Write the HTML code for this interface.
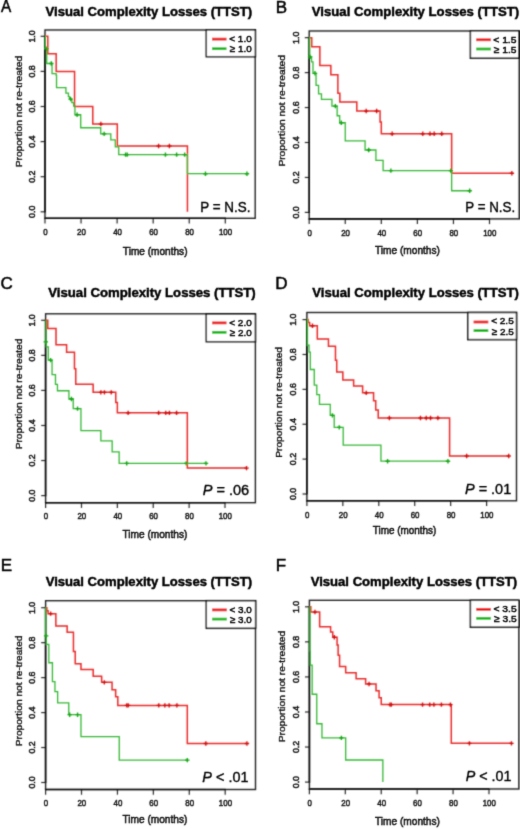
<!DOCTYPE html>
<html><head><meta charset="utf-8"><style>
html,body{margin:0;padding:0;background:#fff;}
body{width:520px;height:829px;overflow:hidden;}
svg{display:block;font-family:"Liberation Sans",sans-serif;}
text{white-space:pre;stroke:#1a1a1a;stroke-width:0.5px;}
.tt{stroke:#000;stroke-width:0.45px;}
.lt{stroke:#000;stroke-width:0.5px;}
.xl{stroke:#000;stroke-width:0.45px;}
.yl{stroke:#000;stroke-width:0.3px;}
.pt{stroke:#000;stroke-width:0.35px;}
.lg{stroke:#000;stroke-width:0.45px;}
</style></head><body>
<svg width="520" height="829" viewBox="0 0 520 829">
<defs><filter id="bl" x="0" y="0" width="520" height="829" filterUnits="userSpaceOnUse"><feConvolveMatrix order="3" kernelMatrix="1 4 1 4 16 4 1 4 1" divisor="36" edgeMode="duplicate"/></filter><filter id="bt" x="0" y="0" width="520" height="829" filterUnits="userSpaceOnUse"><feConvolveMatrix order="3" kernelMatrix="1 6 1 6 36 6 1 6 1" divisor="64" edgeMode="duplicate"/></filter></defs>
<rect width="520" height="829" fill="#fff"/>
<g filter="url(#bl)">
<line x1="40.6" y1="211.8" x2="45" y2="211.8" stroke="#2a2a2a" stroke-width="1.2"/>
<line x1="40.6" y1="176.7" x2="45" y2="176.7" stroke="#2a2a2a" stroke-width="1.2"/>
<line x1="40.6" y1="141.6" x2="45" y2="141.6" stroke="#2a2a2a" stroke-width="1.2"/>
<line x1="40.6" y1="106.5" x2="45" y2="106.5" stroke="#2a2a2a" stroke-width="1.2"/>
<line x1="40.6" y1="71.4" x2="45" y2="71.4" stroke="#2a2a2a" stroke-width="1.2"/>
<line x1="40.6" y1="36.3" x2="45" y2="36.3" stroke="#2a2a2a" stroke-width="1.2"/>
<line x1="45" y1="218.3" x2="45" y2="223.5" stroke="#2a2a2a" stroke-width="1.2"/>
<line x1="81.06" y1="218.3" x2="81.06" y2="223.5" stroke="#2a2a2a" stroke-width="1.2"/>
<line x1="117.12" y1="218.3" x2="117.12" y2="223.5" stroke="#2a2a2a" stroke-width="1.2"/>
<line x1="153.18" y1="218.3" x2="153.18" y2="223.5" stroke="#2a2a2a" stroke-width="1.2"/>
<line x1="189.24" y1="218.3" x2="189.24" y2="223.5" stroke="#2a2a2a" stroke-width="1.2"/>
<line x1="225.3" y1="218.3" x2="225.3" y2="223.5" stroke="#2a2a2a" stroke-width="1.2"/>
<rect x="45" y="30" width="210.2" height="188.3" fill="none" stroke="#222" stroke-width="1.4"/>
<path d="M45,35.7 V212.4 M44.4,218.3 H225.9" fill="none" stroke="#111" stroke-width="1.6"/>
<path d="M45,36.3 H47.79 V53.85 H56.18 V71.4 H74.57 V106.5 H92.78 V124.05 H117.3 V145.99 H187.44 V211.8 H187.44" fill="none" stroke="#ea2a2a" stroke-width="1.5"/>
<path d="M45,36.3 H45.36 V48.59 H46.71 V63.5 H52.03 V73.68 H56.18 V75.44 H56.54 V87.72 H65.91 V93.16 H68.44 V96.67 H69.7 V99.13 H71.86 V102.64 H73.67 V106.15 H74.93 V114.75 H80.7 V127.74 H100.71 V133.88 H110.81 V139.85 H115.32 V146.87 H118.74 V154.59 H187.44 V173.72 H246.94" fill="none" stroke="#36b836" stroke-width="1.3"/>
<path d="M98.69,124.05 h4.4 M100.89,121.85 v4.4" stroke="#d01010" stroke-width="1.35" fill="none"/>
<path d="M156.39,145.99 h4.4 M158.59,143.79 v4.4" stroke="#d01010" stroke-width="1.35" fill="none"/>
<path d="M167.21,145.99 h4.4 M169.41,143.79 v4.4" stroke="#d01010" stroke-width="1.35" fill="none"/>
<path d="M44.24,48.59 h4.4 M46.44,46.39 v4.4" stroke="#12a612" stroke-width="1.35" fill="none"/>
<path d="M49.11,63.5 h4.4 M51.31,61.3 v4.4" stroke="#12a612" stroke-width="1.35" fill="none"/>
<path d="M68.4,99.13 h4.4 M70.6,96.93 v4.4" stroke="#12a612" stroke-width="1.35" fill="none"/>
<path d="M74.89,114.75 h4.4 M77.09,112.55 v4.4" stroke="#12a612" stroke-width="1.35" fill="none"/>
<path d="M101.94,133.88 h4.4 M104.14,131.68 v4.4" stroke="#12a612" stroke-width="1.35" fill="none"/>
<path d="M123.39,154.59 h4.4 M125.59,152.39 v4.4" stroke="#12a612" stroke-width="1.35" fill="none"/>
<path d="M125.02,154.59 h4.4 M127.22,152.39 v4.4" stroke="#12a612" stroke-width="1.35" fill="none"/>
<path d="M163.24,154.59 h4.4 M165.44,152.39 v4.4" stroke="#12a612" stroke-width="1.35" fill="none"/>
<path d="M174.42,154.59 h4.4 M176.62,152.39 v4.4" stroke="#12a612" stroke-width="1.35" fill="none"/>
<path d="M182.53,154.59 h4.4 M184.73,152.39 v4.4" stroke="#12a612" stroke-width="1.35" fill="none"/>
<path d="M203.27,173.72 h4.4 M205.47,171.52 v4.4" stroke="#12a612" stroke-width="1.35" fill="none"/>
<path d="M244.74,173.72 h4.4 M246.94,171.52 v4.4" stroke="#12a612" stroke-width="1.35" fill="none"/>
<rect x="206.3" y="29.8" width="49.1" height="26.9" fill="#fff" stroke="#111" stroke-width="1.5"/>
<line x1="212" y1="39.1" x2="226.5" y2="39.1" stroke="#ee0000" stroke-width="2.7"/>
<line x1="212" y1="48.7" x2="226.5" y2="48.7" stroke="#00b800" stroke-width="2.7"/>
<line x1="304.8" y1="212.4" x2="309.2" y2="212.4" stroke="#2a2a2a" stroke-width="1.2"/>
<line x1="304.8" y1="177.45" x2="309.2" y2="177.45" stroke="#2a2a2a" stroke-width="1.2"/>
<line x1="304.8" y1="142.5" x2="309.2" y2="142.5" stroke="#2a2a2a" stroke-width="1.2"/>
<line x1="304.8" y1="107.55" x2="309.2" y2="107.55" stroke="#2a2a2a" stroke-width="1.2"/>
<line x1="304.8" y1="72.6" x2="309.2" y2="72.6" stroke="#2a2a2a" stroke-width="1.2"/>
<line x1="304.8" y1="37.65" x2="309.2" y2="37.65" stroke="#2a2a2a" stroke-width="1.2"/>
<line x1="309.2" y1="218.9" x2="309.2" y2="224.1" stroke="#2a2a2a" stroke-width="1.2"/>
<line x1="345.26" y1="218.9" x2="345.26" y2="224.1" stroke="#2a2a2a" stroke-width="1.2"/>
<line x1="381.32" y1="218.9" x2="381.32" y2="224.1" stroke="#2a2a2a" stroke-width="1.2"/>
<line x1="417.38" y1="218.9" x2="417.38" y2="224.1" stroke="#2a2a2a" stroke-width="1.2"/>
<line x1="453.44" y1="218.9" x2="453.44" y2="224.1" stroke="#2a2a2a" stroke-width="1.2"/>
<line x1="489.5" y1="218.9" x2="489.5" y2="224.1" stroke="#2a2a2a" stroke-width="1.2"/>
<rect x="309.2" y="31" width="210" height="187.9" fill="none" stroke="#222" stroke-width="1.4"/>
<path d="M309.2,37.05 V213 M308.6,218.9 H490.1" fill="none" stroke="#111" stroke-width="1.6"/>
<path d="M309.2,37.65 H311.72 V46.74 H319.84 V65.44 H330.84 V74.7 H337.87 V93.22 H339.85 V101.96 H356.8 V111.05 H380.06 V121.88 H381.32 V133.76 H451.64 V173.26 H511.86" fill="none" stroke="#ea2a2a" stroke-width="1.5"/>
<path d="M309.2,37.65 H309.74 V56.87 H311.54 V61.94 H312.99 V73.3 H316.05 V85.36 H318.58 V93.92 H321.46 V99.34 H331.92 V106.15 H337.15 V115.76 H339.67 V122.75 H345.26 V140.93 H365.09 V150.01 H375.91 V160.32 H383.12 V170.63 H451.64 V190.73 H469.67" fill="none" stroke="#36b836" stroke-width="1.3"/>
<path d="M363.97,111.05 h4.4 M366.17,108.85 v4.4" stroke="#d01010" stroke-width="1.35" fill="none"/>
<path d="M374.43,111.05 h4.4 M376.63,108.85 v4.4" stroke="#d01010" stroke-width="1.35" fill="none"/>
<path d="M389.94,133.76 h4.4 M392.14,131.56 v4.4" stroke="#d01010" stroke-width="1.35" fill="none"/>
<path d="M420.59,133.76 h4.4 M422.79,131.56 v4.4" stroke="#d01010" stroke-width="1.35" fill="none"/>
<path d="M427.8,133.76 h4.4 M430,131.56 v4.4" stroke="#d01010" stroke-width="1.35" fill="none"/>
<path d="M431.95,133.76 h4.4 M434.15,131.56 v4.4" stroke="#d01010" stroke-width="1.35" fill="none"/>
<path d="M439.52,133.76 h4.4 M441.72,131.56 v4.4" stroke="#d01010" stroke-width="1.35" fill="none"/>
<path d="M509.66,173.26 h4.4 M511.86,171.06 v4.4" stroke="#d01010" stroke-width="1.35" fill="none"/>
<path d="M307.9,56.87 h4.4 M310.1,54.67 v4.4" stroke="#12a612" stroke-width="1.35" fill="none"/>
<path d="M312.77,73.3 h4.4 M314.97,71.1 v4.4" stroke="#12a612" stroke-width="1.35" fill="none"/>
<path d="M333.14,106.15 h4.4 M335.34,103.95 v4.4" stroke="#12a612" stroke-width="1.35" fill="none"/>
<path d="M339.09,122.75 h4.4 M341.29,120.55 v4.4" stroke="#12a612" stroke-width="1.35" fill="none"/>
<path d="M366.5,150.01 h4.4 M368.7,147.81 v4.4" stroke="#12a612" stroke-width="1.35" fill="none"/>
<path d="M388.68,170.63 h4.4 M390.88,168.43 v4.4" stroke="#12a612" stroke-width="1.35" fill="none"/>
<path d="M448.54,170.63 h4.4 M450.74,168.43 v4.4" stroke="#12a612" stroke-width="1.35" fill="none"/>
<path d="M467.47,190.73 h4.4 M469.67,188.53 v4.4" stroke="#12a612" stroke-width="1.35" fill="none"/>
<rect x="470.4" y="30.8" width="48.4" height="27.4" fill="#fff" stroke="#111" stroke-width="1.5"/>
<line x1="476.2" y1="39.8" x2="490.9" y2="39.8" stroke="#ee0000" stroke-width="2.7"/>
<line x1="476.2" y1="49" x2="490.9" y2="49" stroke="#00b800" stroke-width="2.7"/>
<line x1="41.2" y1="495.6" x2="45.6" y2="495.6" stroke="#2a2a2a" stroke-width="1.2"/>
<line x1="41.2" y1="460.54" x2="45.6" y2="460.54" stroke="#2a2a2a" stroke-width="1.2"/>
<line x1="41.2" y1="425.48" x2="45.6" y2="425.48" stroke="#2a2a2a" stroke-width="1.2"/>
<line x1="41.2" y1="390.42" x2="45.6" y2="390.42" stroke="#2a2a2a" stroke-width="1.2"/>
<line x1="41.2" y1="355.36" x2="45.6" y2="355.36" stroke="#2a2a2a" stroke-width="1.2"/>
<line x1="41.2" y1="320.3" x2="45.6" y2="320.3" stroke="#2a2a2a" stroke-width="1.2"/>
<line x1="45.6" y1="502.7" x2="45.6" y2="507.9" stroke="#2a2a2a" stroke-width="1.2"/>
<line x1="81.48" y1="502.7" x2="81.48" y2="507.9" stroke="#2a2a2a" stroke-width="1.2"/>
<line x1="117.36" y1="502.7" x2="117.36" y2="507.9" stroke="#2a2a2a" stroke-width="1.2"/>
<line x1="153.24" y1="502.7" x2="153.24" y2="507.9" stroke="#2a2a2a" stroke-width="1.2"/>
<line x1="189.12" y1="502.7" x2="189.12" y2="507.9" stroke="#2a2a2a" stroke-width="1.2"/>
<line x1="225" y1="502.7" x2="225" y2="507.9" stroke="#2a2a2a" stroke-width="1.2"/>
<rect x="45.6" y="313.8" width="209.8" height="188.9" fill="none" stroke="#222" stroke-width="1.4"/>
<path d="M45.6,319.7 V496.2 M45,502.7 H225.6" fill="none" stroke="#111" stroke-width="1.6"/>
<path d="M45.6,320.3 H47.75 V328.54 H56.01 V344.84 H66.59 V352.2 H74.48 V368.68 H75.74 V384.28 H93.14 V392.35 H115.75 V402.52 H117.36 V412.86 H187.33 V468.08 H246.53" fill="none" stroke="#ea2a2a" stroke-width="1.5"/>
<path d="M45.6,320.3 H45.96 V341.86 H46.32 V346.95 H48.29 V360.09 H52.06 V374.64 H55.47 V384.28 H57.44 V390.77 H68.92 V399.01 H73.23 V408.65 H80.94 V430.56 H100.86 V440.91 H112.16 V451.78 H119.15 V463.34 H205.98" fill="none" stroke="#36b836" stroke-width="1.3"/>
<path d="M98.66,392.35 h4.4 M100.86,390.15 v4.4" stroke="#d01010" stroke-width="1.35" fill="none"/>
<path d="M102.24,392.35 h4.4 M104.44,390.15 v4.4" stroke="#d01010" stroke-width="1.35" fill="none"/>
<path d="M109.06,392.35 h4.4 M111.26,390.15 v4.4" stroke="#d01010" stroke-width="1.35" fill="none"/>
<path d="M125.92,412.86 h4.4 M128.12,410.66 v4.4" stroke="#d01010" stroke-width="1.35" fill="none"/>
<path d="M156.42,412.86 h4.4 M158.62,410.66 v4.4" stroke="#d01010" stroke-width="1.35" fill="none"/>
<path d="M163.6,412.86 h4.4 M165.8,410.66 v4.4" stroke="#d01010" stroke-width="1.35" fill="none"/>
<path d="M167.19,412.86 h4.4 M169.39,410.66 v4.4" stroke="#d01010" stroke-width="1.35" fill="none"/>
<path d="M174.36,412.86 h4.4 M176.56,410.66 v4.4" stroke="#d01010" stroke-width="1.35" fill="none"/>
<path d="M244.33,468.08 h4.4 M246.53,465.88 v4.4" stroke="#d01010" stroke-width="1.35" fill="none"/>
<path d="M43.58,341.86 h4.4 M45.78,339.66 v4.4" stroke="#12a612" stroke-width="1.35" fill="none"/>
<path d="M48.42,360.09 h4.4 M50.62,357.89 v4.4" stroke="#12a612" stroke-width="1.35" fill="none"/>
<path d="M69.23,399.01 h4.4 M71.43,396.81 v4.4" stroke="#12a612" stroke-width="1.35" fill="none"/>
<path d="M75.33,408.65 h4.4 M77.53,406.45 v4.4" stroke="#12a612" stroke-width="1.35" fill="none"/>
<path d="M124.49,463.34 h4.4 M126.69,461.14 v4.4" stroke="#12a612" stroke-width="1.35" fill="none"/>
<path d="M184.05,463.34 h4.4 M186.25,461.14 v4.4" stroke="#12a612" stroke-width="1.35" fill="none"/>
<path d="M203.78,463.34 h4.4 M205.98,461.14 v4.4" stroke="#12a612" stroke-width="1.35" fill="none"/>
<rect x="206.3" y="314" width="49.1" height="27.7" fill="#fff" stroke="#111" stroke-width="1.5"/>
<line x1="212.1" y1="322.9" x2="226.5" y2="322.9" stroke="#ee0000" stroke-width="2.7"/>
<line x1="212.1" y1="332.3" x2="226.5" y2="332.3" stroke="#00b800" stroke-width="2.7"/>
<line x1="302.5" y1="494" x2="306.9" y2="494" stroke="#2a2a2a" stroke-width="1.2"/>
<line x1="302.5" y1="459.12" x2="306.9" y2="459.12" stroke="#2a2a2a" stroke-width="1.2"/>
<line x1="302.5" y1="424.24" x2="306.9" y2="424.24" stroke="#2a2a2a" stroke-width="1.2"/>
<line x1="302.5" y1="389.36" x2="306.9" y2="389.36" stroke="#2a2a2a" stroke-width="1.2"/>
<line x1="302.5" y1="354.48" x2="306.9" y2="354.48" stroke="#2a2a2a" stroke-width="1.2"/>
<line x1="302.5" y1="319.6" x2="306.9" y2="319.6" stroke="#2a2a2a" stroke-width="1.2"/>
<line x1="306.9" y1="500.8" x2="306.9" y2="506" stroke="#2a2a2a" stroke-width="1.2"/>
<line x1="342.84" y1="500.8" x2="342.84" y2="506" stroke="#2a2a2a" stroke-width="1.2"/>
<line x1="378.78" y1="500.8" x2="378.78" y2="506" stroke="#2a2a2a" stroke-width="1.2"/>
<line x1="414.72" y1="500.8" x2="414.72" y2="506" stroke="#2a2a2a" stroke-width="1.2"/>
<line x1="450.66" y1="500.8" x2="450.66" y2="506" stroke="#2a2a2a" stroke-width="1.2"/>
<line x1="486.6" y1="500.8" x2="486.6" y2="506" stroke="#2a2a2a" stroke-width="1.2"/>
<rect x="306.9" y="312.5" width="209.6" height="188.3" fill="none" stroke="#222" stroke-width="1.4"/>
<path d="M306.9,319 V494.6 M306.3,500.8 H487.2" fill="none" stroke="#111" stroke-width="1.6"/>
<path d="M306.9,319.6 H308.16 V322.56 H309.6 V325.7 H317.32 V338.96 H328.46 V346.28 H335.47 V360.24 H336.73 V372.09 H342.84 V379.94 H353.62 V386.05 H362.61 V392.85 H373.57 V400.7 H375.73 V410.11 H378.24 V417.96 H449.58 V455.98 H508.7" fill="none" stroke="#ea2a2a" stroke-width="1.5"/>
<path d="M306.9,319.6 H307.44 V345.24 H309.06 V352.21 H310.31 V369.48 H314.27 V385.17 H316.78 V394.59 H319.48 V404.36 H330.26 V415.35 H334.21 V427.38 H343.2 V445.17 H380.94 V461.21 H447.96" fill="none" stroke="#36b836" stroke-width="1.3"/>
<path d="M310.27,325.7 h4.4 M312.47,323.5 v4.4" stroke="#d01010" stroke-width="1.35" fill="none"/>
<path d="M364,392.85 h4.4 M366.2,390.65 v4.4" stroke="#d01010" stroke-width="1.35" fill="none"/>
<path d="M387.18,417.96 h4.4 M389.38,415.76 v4.4" stroke="#d01010" stroke-width="1.35" fill="none"/>
<path d="M418.27,417.96 h4.4 M420.47,415.76 v4.4" stroke="#d01010" stroke-width="1.35" fill="none"/>
<path d="M424.02,417.96 h4.4 M426.22,415.76 v4.4" stroke="#d01010" stroke-width="1.35" fill="none"/>
<path d="M428.33,417.96 h4.4 M430.53,415.76 v4.4" stroke="#d01010" stroke-width="1.35" fill="none"/>
<path d="M435.7,417.96 h4.4 M437.9,415.76 v4.4" stroke="#d01010" stroke-width="1.35" fill="none"/>
<path d="M464.45,455.98 h4.4 M466.65,453.78 v4.4" stroke="#d01010" stroke-width="1.35" fill="none"/>
<path d="M506.5,455.98 h4.4 M508.7,453.78 v4.4" stroke="#d01010" stroke-width="1.35" fill="none"/>
<path d="M330.22,415.35 h4.4 M332.42,413.15 v4.4" stroke="#12a612" stroke-width="1.35" fill="none"/>
<path d="M337.05,427.38 h4.4 M339.25,425.18 v4.4" stroke="#12a612" stroke-width="1.35" fill="none"/>
<path d="M385.39,461.21 h4.4 M387.59,459.01 v4.4" stroke="#12a612" stroke-width="1.35" fill="none"/>
<path d="M445.76,461.21 h4.4 M447.96,459.01 v4.4" stroke="#12a612" stroke-width="1.35" fill="none"/>
<rect x="467.8" y="312.5" width="48.7" height="27.1" fill="#fff" stroke="#111" stroke-width="1.5"/>
<line x1="473.6" y1="322" x2="488.3" y2="322" stroke="#ee0000" stroke-width="2.7"/>
<line x1="473.6" y1="330.6" x2="488.3" y2="330.6" stroke="#00b800" stroke-width="2.7"/>
<line x1="41.2" y1="782.5" x2="45.6" y2="782.5" stroke="#2a2a2a" stroke-width="1.2"/>
<line x1="41.2" y1="747.54" x2="45.6" y2="747.54" stroke="#2a2a2a" stroke-width="1.2"/>
<line x1="41.2" y1="712.58" x2="45.6" y2="712.58" stroke="#2a2a2a" stroke-width="1.2"/>
<line x1="41.2" y1="677.62" x2="45.6" y2="677.62" stroke="#2a2a2a" stroke-width="1.2"/>
<line x1="41.2" y1="642.66" x2="45.6" y2="642.66" stroke="#2a2a2a" stroke-width="1.2"/>
<line x1="41.2" y1="607.7" x2="45.6" y2="607.7" stroke="#2a2a2a" stroke-width="1.2"/>
<line x1="45.6" y1="789.5" x2="45.6" y2="794.7" stroke="#2a2a2a" stroke-width="1.2"/>
<line x1="81.52" y1="789.5" x2="81.52" y2="794.7" stroke="#2a2a2a" stroke-width="1.2"/>
<line x1="117.44" y1="789.5" x2="117.44" y2="794.7" stroke="#2a2a2a" stroke-width="1.2"/>
<line x1="153.36" y1="789.5" x2="153.36" y2="794.7" stroke="#2a2a2a" stroke-width="1.2"/>
<line x1="189.28" y1="789.5" x2="189.28" y2="794.7" stroke="#2a2a2a" stroke-width="1.2"/>
<line x1="225.2" y1="789.5" x2="225.2" y2="794.7" stroke="#2a2a2a" stroke-width="1.2"/>
<rect x="45.6" y="600.7" width="209.9" height="188.8" fill="none" stroke="#222" stroke-width="1.4"/>
<path d="M45.6,607.1 V783.1 M45,789.5 H225.8" fill="none" stroke="#111" stroke-width="1.6"/>
<path d="M45.6,607.7 H46.86 V610.85 H48.11 V613.64 H55.84 V626.05 H67.15 V632.17 H73.44 V651.4 H75.23 V663.64 H80.98 V669.58 H93.19 V676.22 H101.64 V682.34 H112.05 V689.86 H115.64 V696.85 H117.8 V705.41 H187.3 V743.52 H246.93" fill="none" stroke="#ea2a2a" stroke-width="1.5"/>
<path d="M45.6,607.7 H45.78 V635.84 H46.32 V644.41 H48.83 V662.76 H52.42 V681.64 H54.94 V691.6 H57.63 V702.97 H68.77 V714.68 H80.98 V736.53 H119.24 V760.13 H187.3" fill="none" stroke="#36b836" stroke-width="1.3"/>
<path d="M48.43,613.64 h4.4 M50.63,611.44 v4.4" stroke="#d01010" stroke-width="1.35" fill="none"/>
<path d="M102.13,682.34 h4.4 M104.33,680.14 v4.4" stroke="#d01010" stroke-width="1.35" fill="none"/>
<path d="M124.58,705.41 h4.4 M126.78,703.21 v4.4" stroke="#d01010" stroke-width="1.35" fill="none"/>
<path d="M126.02,705.41 h4.4 M128.22,703.21 v4.4" stroke="#d01010" stroke-width="1.35" fill="none"/>
<path d="M156.55,705.41 h4.4 M158.75,703.21 v4.4" stroke="#d01010" stroke-width="1.35" fill="none"/>
<path d="M162.65,705.41 h4.4 M164.85,703.21 v4.4" stroke="#d01010" stroke-width="1.35" fill="none"/>
<path d="M166.96,705.41 h4.4 M169.16,703.21 v4.4" stroke="#d01010" stroke-width="1.35" fill="none"/>
<path d="M174.69,705.41 h4.4 M176.89,703.21 v4.4" stroke="#d01010" stroke-width="1.35" fill="none"/>
<path d="M203.6,743.52 h4.4 M205.8,741.32 v4.4" stroke="#d01010" stroke-width="1.35" fill="none"/>
<path d="M244.73,743.52 h4.4 M246.93,741.32 v4.4" stroke="#d01010" stroke-width="1.35" fill="none"/>
<path d="M43.94,635.84 h4.4 M46.14,633.64 v4.4" stroke="#12a612" stroke-width="1.35" fill="none"/>
<path d="M67.47,714.68 h4.4 M69.67,712.48 v4.4" stroke="#12a612" stroke-width="1.35" fill="none"/>
<path d="M75.37,714.68 h4.4 M77.57,712.48 v4.4" stroke="#12a612" stroke-width="1.35" fill="none"/>
<path d="M185.1,760.13 h4.4 M187.3,757.93 v4.4" stroke="#12a612" stroke-width="1.35" fill="none"/>
<rect x="206.3" y="600.7" width="49.3" height="27.6" fill="#fff" stroke="#111" stroke-width="1.5"/>
<line x1="212.1" y1="609.9" x2="226.8" y2="609.9" stroke="#ee0000" stroke-width="2.7"/>
<line x1="212.1" y1="619.1" x2="226.8" y2="619.1" stroke="#00b800" stroke-width="2.7"/>
<line x1="305" y1="782.1" x2="309.4" y2="782.1" stroke="#2a2a2a" stroke-width="1.2"/>
<line x1="305" y1="747.04" x2="309.4" y2="747.04" stroke="#2a2a2a" stroke-width="1.2"/>
<line x1="305" y1="711.98" x2="309.4" y2="711.98" stroke="#2a2a2a" stroke-width="1.2"/>
<line x1="305" y1="676.92" x2="309.4" y2="676.92" stroke="#2a2a2a" stroke-width="1.2"/>
<line x1="305" y1="641.86" x2="309.4" y2="641.86" stroke="#2a2a2a" stroke-width="1.2"/>
<line x1="305" y1="606.8" x2="309.4" y2="606.8" stroke="#2a2a2a" stroke-width="1.2"/>
<line x1="309.4" y1="789" x2="309.4" y2="794.2" stroke="#2a2a2a" stroke-width="1.2"/>
<line x1="345.32" y1="789" x2="345.32" y2="794.2" stroke="#2a2a2a" stroke-width="1.2"/>
<line x1="381.24" y1="789" x2="381.24" y2="794.2" stroke="#2a2a2a" stroke-width="1.2"/>
<line x1="417.16" y1="789" x2="417.16" y2="794.2" stroke="#2a2a2a" stroke-width="1.2"/>
<line x1="453.08" y1="789" x2="453.08" y2="794.2" stroke="#2a2a2a" stroke-width="1.2"/>
<line x1="489" y1="789" x2="489" y2="794.2" stroke="#2a2a2a" stroke-width="1.2"/>
<rect x="309.4" y="600.3" width="209.4" height="188.7" fill="none" stroke="#222" stroke-width="1.4"/>
<path d="M309.4,606.2 V782.7 M308.8,789 H489.6" fill="none" stroke="#111" stroke-width="1.6"/>
<path d="M309.4,606.8 H310.84 V612.06 H319.64 V626.78 H330.59 V632.04 H332.75 V637.3 H337.06 V645.02 H338.14 V655.36 H339.57 V666.58 H345.68 V672.71 H356.1 V678.67 H365.61 V683.93 H376.03 V690.77 H379.08 V697.78 H381.24 V704.62 H451.28 V743.36 H511.45" fill="none" stroke="#ea2a2a" stroke-width="1.5"/>
<path d="M309.4,606.8 H309.94 V651.15 H310.21 V665.17 H312.18 V694.27 H316.76 V723.73 H321.97 V737.92 H345.68 V760.01 H382.86 V782.1 H382.86" fill="none" stroke="#36b836" stroke-width="1.3"/>
<path d="M312.77,612.06 h4.4 M314.97,609.86 v4.4" stroke="#d01010" stroke-width="1.35" fill="none"/>
<path d="M332.16,637.3 h4.4 M334.36,635.1 v4.4" stroke="#d01010" stroke-width="1.35" fill="none"/>
<path d="M366.83,683.93 h4.4 M369.03,681.73 v4.4" stroke="#d01010" stroke-width="1.35" fill="none"/>
<path d="M387.84,704.62 h4.4 M390.04,702.42 v4.4" stroke="#d01010" stroke-width="1.35" fill="none"/>
<path d="M389.1,704.62 h4.4 M391.3,702.42 v4.4" stroke="#d01010" stroke-width="1.35" fill="none"/>
<path d="M420.35,704.62 h4.4 M422.55,702.42 v4.4" stroke="#d01010" stroke-width="1.35" fill="none"/>
<path d="M427.53,704.62 h4.4 M429.73,702.42 v4.4" stroke="#d01010" stroke-width="1.35" fill="none"/>
<path d="M431.66,704.62 h4.4 M433.86,702.42 v4.4" stroke="#d01010" stroke-width="1.35" fill="none"/>
<path d="M439.21,704.62 h4.4 M441.41,702.42 v4.4" stroke="#d01010" stroke-width="1.35" fill="none"/>
<path d="M448.19,704.62 h4.4 M450.39,702.42 v4.4" stroke="#d01010" stroke-width="1.35" fill="none"/>
<path d="M467.22,743.36 h4.4 M469.42,741.16 v4.4" stroke="#d01010" stroke-width="1.35" fill="none"/>
<path d="M509.25,743.36 h4.4 M511.45,741.16 v4.4" stroke="#d01010" stroke-width="1.35" fill="none"/>
<path d="M339.17,737.92 h4.4 M341.37,735.72 v4.4" stroke="#12a612" stroke-width="1.35" fill="none"/>
<rect x="470.4" y="600.3" width="48.4" height="26.9" fill="#fff" stroke="#111" stroke-width="1.5"/>
<line x1="476.2" y1="609.3" x2="490.9" y2="609.3" stroke="#ee0000" stroke-width="2.7"/>
<line x1="476.2" y1="618.3" x2="490.9" y2="618.3" stroke="#00b800" stroke-width="2.7"/>
</g>
<g filter="url(#bt)">
<text class="lt" x="1.12" y="12.4" font-size="17" fill="#000" textLength="10.21" lengthAdjust="spacingAndGlyphs">A</text>
<text x="45.57" y="15.7" font-size="13" font-weight="bold" class="tt" fill="#000" textLength="206.67" lengthAdjust="spacingAndGlyphs">Visual Complexity Losses (TTST)</text>
<text class="yl" transform="translate(21.81,167.32) rotate(-90)" font-size="9" fill="#1a1a1a" textLength="111.49" lengthAdjust="spacingAndGlyphs">Proportion not re-treated</text>
<text transform="translate(35.2,217.92) rotate(-90)" font-size="8.8" fill="#1a1a1a" textLength="12.23" lengthAdjust="spacingAndGlyphs">0.0</text>
<text transform="translate(35.2,182.77) rotate(-90)" font-size="8.8" fill="#1a1a1a" textLength="12.23" lengthAdjust="spacingAndGlyphs">0.2</text>
<text transform="translate(35.2,147.76) rotate(-90)" font-size="8.8" fill="#1a1a1a" textLength="12.23" lengthAdjust="spacingAndGlyphs">0.4</text>
<text transform="translate(35.2,112.59) rotate(-90)" font-size="8.8" fill="#1a1a1a" textLength="12.23" lengthAdjust="spacingAndGlyphs">0.6</text>
<text transform="translate(35.2,77.52) rotate(-90)" font-size="8.8" fill="#1a1a1a" textLength="12.23" lengthAdjust="spacingAndGlyphs">0.8</text>
<text transform="translate(35.2,42.57) rotate(-90)" font-size="8.8" fill="#1a1a1a" textLength="12.23" lengthAdjust="spacingAndGlyphs">1.0</text>
<text x="43.2" y="235.3" font-size="9" fill="#1a1a1a" textLength="4.4" lengthAdjust="spacingAndGlyphs">0</text>
<text x="77.02" y="235.3" font-size="9" fill="#1a1a1a" textLength="8.81" lengthAdjust="spacingAndGlyphs">20</text>
<text x="113.18" y="235.3" font-size="9" fill="#1a1a1a" textLength="8.81" lengthAdjust="spacingAndGlyphs">40</text>
<text x="149.14" y="235.3" font-size="9" fill="#1a1a1a" textLength="8.81" lengthAdjust="spacingAndGlyphs">60</text>
<text x="185.22" y="235.3" font-size="9" fill="#1a1a1a" textLength="8.81" lengthAdjust="spacingAndGlyphs">80</text>
<text x="218.97" y="235.3" font-size="9" fill="#1a1a1a" textLength="13.21" lengthAdjust="spacingAndGlyphs">100</text>
<text x="122.85" y="254.5" font-size="10.1" fill="#1a1a1a" textLength="64.69" lengthAdjust="spacingAndGlyphs" class="xl">Time (months)</text>
<text x="229.3" y="42.1" font-size="9.9" fill="#000" textLength="22.42" lengthAdjust="spacingAndGlyphs" class="lg">&lt; 1.0</text>
<text x="229.8" y="52.1" font-size="9.9" fill="#000" textLength="21.91" lengthAdjust="spacingAndGlyphs" class="lg">&#8805; 1.0</text>
<text x="200.33" y="211.5" font-size="14" fill="#000" textLength="50.13" lengthAdjust="spacingAndGlyphs" class="pt">P = N.S.</text>
<text class="lt" x="275.64" y="12.5" font-size="17" fill="#000" textLength="11.34" lengthAdjust="spacingAndGlyphs">B</text>
<text x="311.77" y="16.2" font-size="13" font-weight="bold" class="tt" fill="#000" textLength="207.47" lengthAdjust="spacingAndGlyphs">Visual Complexity Losses (TTST)</text>
<text class="yl" transform="translate(284.91,166.62) rotate(-90)" font-size="9" fill="#1a1a1a" textLength="111.49" lengthAdjust="spacingAndGlyphs">Proportion not re-treated</text>
<text transform="translate(298.5,218.52) rotate(-90)" font-size="8.8" fill="#1a1a1a" textLength="12.23" lengthAdjust="spacingAndGlyphs">0.0</text>
<text transform="translate(298.5,183.52) rotate(-90)" font-size="8.8" fill="#1a1a1a" textLength="12.23" lengthAdjust="spacingAndGlyphs">0.2</text>
<text transform="translate(298.5,148.66) rotate(-90)" font-size="8.8" fill="#1a1a1a" textLength="12.23" lengthAdjust="spacingAndGlyphs">0.4</text>
<text transform="translate(298.5,113.64) rotate(-90)" font-size="8.8" fill="#1a1a1a" textLength="12.23" lengthAdjust="spacingAndGlyphs">0.6</text>
<text transform="translate(298.5,78.72) rotate(-90)" font-size="8.8" fill="#1a1a1a" textLength="12.23" lengthAdjust="spacingAndGlyphs">0.8</text>
<text transform="translate(298.5,43.92) rotate(-90)" font-size="8.8" fill="#1a1a1a" textLength="12.23" lengthAdjust="spacingAndGlyphs">1.0</text>
<text x="307.4" y="235.6" font-size="9" fill="#1a1a1a" textLength="4.4" lengthAdjust="spacingAndGlyphs">0</text>
<text x="341.22" y="235.6" font-size="9" fill="#1a1a1a" textLength="8.81" lengthAdjust="spacingAndGlyphs">20</text>
<text x="377.38" y="235.6" font-size="9" fill="#1a1a1a" textLength="8.81" lengthAdjust="spacingAndGlyphs">40</text>
<text x="413.34" y="235.6" font-size="9" fill="#1a1a1a" textLength="8.81" lengthAdjust="spacingAndGlyphs">60</text>
<text x="449.42" y="235.6" font-size="9" fill="#1a1a1a" textLength="8.81" lengthAdjust="spacingAndGlyphs">80</text>
<text x="483.17" y="235.6" font-size="9" fill="#1a1a1a" textLength="13.21" lengthAdjust="spacingAndGlyphs">100</text>
<text x="374.95" y="254" font-size="10.1" fill="#1a1a1a" textLength="65" lengthAdjust="spacingAndGlyphs" class="xl">Time (months)</text>
<text x="493.29" y="42.7" font-size="9.9" fill="#000" textLength="23.15" lengthAdjust="spacingAndGlyphs" class="lg">&lt; 1.5</text>
<text x="493.79" y="53.1" font-size="9.9" fill="#000" textLength="22.63" lengthAdjust="spacingAndGlyphs" class="lg">&#8805; 1.5</text>
<text x="465.33" y="211.5" font-size="14" fill="#000" textLength="49.81" lengthAdjust="spacingAndGlyphs" class="pt">P = N.S.</text>
<text class="lt" x="0.55" y="288.5" font-size="17" fill="#000" textLength="12.28" lengthAdjust="spacingAndGlyphs">C</text>
<text x="48.27" y="297.4" font-size="13.2" font-weight="bold" class="tt" fill="#000" textLength="207.47" lengthAdjust="spacingAndGlyphs">Visual Complexity Losses (TTST)</text>
<text class="yl" transform="translate(21.77,449.36) rotate(-90)" font-size="8.95" fill="#1a1a1a" textLength="110.78" lengthAdjust="spacingAndGlyphs">Proportion not re-treated</text>
<text transform="translate(35.3,501.72) rotate(-90)" font-size="8.8" fill="#1a1a1a" textLength="12.23" lengthAdjust="spacingAndGlyphs">0.0</text>
<text transform="translate(35.3,466.61) rotate(-90)" font-size="8.8" fill="#1a1a1a" textLength="12.23" lengthAdjust="spacingAndGlyphs">0.2</text>
<text transform="translate(35.3,431.64) rotate(-90)" font-size="8.8" fill="#1a1a1a" textLength="12.23" lengthAdjust="spacingAndGlyphs">0.4</text>
<text transform="translate(35.3,396.51) rotate(-90)" font-size="8.8" fill="#1a1a1a" textLength="12.23" lengthAdjust="spacingAndGlyphs">0.6</text>
<text transform="translate(35.3,361.48) rotate(-90)" font-size="8.8" fill="#1a1a1a" textLength="12.23" lengthAdjust="spacingAndGlyphs">0.8</text>
<text transform="translate(35.3,326.57) rotate(-90)" font-size="8.8" fill="#1a1a1a" textLength="12.23" lengthAdjust="spacingAndGlyphs">1.0</text>
<text x="43.8" y="519" font-size="9" fill="#1a1a1a" textLength="4.4" lengthAdjust="spacingAndGlyphs">0</text>
<text x="77.44" y="519" font-size="9" fill="#1a1a1a" textLength="8.81" lengthAdjust="spacingAndGlyphs">20</text>
<text x="113.42" y="519" font-size="9" fill="#1a1a1a" textLength="8.81" lengthAdjust="spacingAndGlyphs">40</text>
<text x="149.2" y="519" font-size="9" fill="#1a1a1a" textLength="8.81" lengthAdjust="spacingAndGlyphs">60</text>
<text x="185.1" y="519" font-size="9" fill="#1a1a1a" textLength="8.81" lengthAdjust="spacingAndGlyphs">80</text>
<text x="218.67" y="519" font-size="9" fill="#1a1a1a" textLength="13.21" lengthAdjust="spacingAndGlyphs">100</text>
<text x="122.55" y="537.8" font-size="10.1" fill="#1a1a1a" textLength="64.79" lengthAdjust="spacingAndGlyphs" class="xl">Time (months)</text>
<text x="229.3" y="325.6" font-size="9.9" fill="#000" textLength="22.42" lengthAdjust="spacingAndGlyphs" class="lg">&lt; 2.0</text>
<text x="229.8" y="336" font-size="9.9" fill="#000" textLength="21.91" lengthAdjust="spacingAndGlyphs" class="lg">&#8805; 2.0</text>
<text x="202.66" y="495.1" font-size="14" fill="#000" class="pt" font-style="italic" textLength="9.7" lengthAdjust="spacingAndGlyphs">P</text>
<text class="pt" x="212.36" y="495.1" font-size="14" fill="#000" textLength="36.79" lengthAdjust="spacingAndGlyphs"> = .06</text>
<text class="lt" x="275.34" y="288.7" font-size="17" fill="#000" textLength="12.28" lengthAdjust="spacingAndGlyphs">D</text>
<text x="312.37" y="297.4" font-size="13.2" font-weight="bold" class="tt" fill="#000" textLength="206.57" lengthAdjust="spacingAndGlyphs">Visual Complexity Losses (TTST)</text>
<text class="yl" transform="translate(282.17,457.71) rotate(-90)" font-size="8.94" fill="#1a1a1a" textLength="110.68" lengthAdjust="spacingAndGlyphs">Proportion not re-treated</text>
<text transform="translate(296,500.12) rotate(-90)" font-size="8.8" fill="#1a1a1a" textLength="12.23" lengthAdjust="spacingAndGlyphs">0.0</text>
<text transform="translate(296,465.19) rotate(-90)" font-size="8.8" fill="#1a1a1a" textLength="12.23" lengthAdjust="spacingAndGlyphs">0.2</text>
<text transform="translate(296,430.4) rotate(-90)" font-size="8.8" fill="#1a1a1a" textLength="12.23" lengthAdjust="spacingAndGlyphs">0.4</text>
<text transform="translate(296,395.45) rotate(-90)" font-size="8.8" fill="#1a1a1a" textLength="12.23" lengthAdjust="spacingAndGlyphs">0.6</text>
<text transform="translate(296,360.6) rotate(-90)" font-size="8.8" fill="#1a1a1a" textLength="12.23" lengthAdjust="spacingAndGlyphs">0.8</text>
<text transform="translate(296,325.87) rotate(-90)" font-size="8.8" fill="#1a1a1a" textLength="12.23" lengthAdjust="spacingAndGlyphs">1.0</text>
<text x="305.1" y="517.6" font-size="9" fill="#1a1a1a" textLength="4.4" lengthAdjust="spacingAndGlyphs">0</text>
<text x="338.8" y="517.6" font-size="9" fill="#1a1a1a" textLength="8.81" lengthAdjust="spacingAndGlyphs">20</text>
<text x="374.84" y="517.6" font-size="9" fill="#1a1a1a" textLength="8.81" lengthAdjust="spacingAndGlyphs">40</text>
<text x="410.68" y="517.6" font-size="9" fill="#1a1a1a" textLength="8.81" lengthAdjust="spacingAndGlyphs">60</text>
<text x="446.64" y="517.6" font-size="9" fill="#1a1a1a" textLength="8.81" lengthAdjust="spacingAndGlyphs">80</text>
<text x="480.27" y="517.6" font-size="9" fill="#1a1a1a" textLength="13.21" lengthAdjust="spacingAndGlyphs">100</text>
<text x="372.85" y="534.2" font-size="10.1" fill="#1a1a1a" textLength="63.48" lengthAdjust="spacingAndGlyphs" class="xl">Time (months)</text>
<text x="491.2" y="323.8" font-size="9.9" fill="#000" textLength="22.52" lengthAdjust="spacingAndGlyphs" class="lg">&lt; 2.5</text>
<text x="491.7" y="334.8" font-size="9.9" fill="#000" textLength="22.01" lengthAdjust="spacingAndGlyphs" class="lg">&#8805; 2.5</text>
<text x="464.97" y="493.8" font-size="14" fill="#000" class="pt" font-style="italic" textLength="9.65" lengthAdjust="spacingAndGlyphs">P</text>
<text class="pt" x="474.62" y="493.8" font-size="14" fill="#000" textLength="36.6" lengthAdjust="spacingAndGlyphs"> = .01</text>
<text class="lt" x="0.74" y="571.3" font-size="17" fill="#000" textLength="11.34" lengthAdjust="spacingAndGlyphs">E</text>
<text x="45.67" y="585.7" font-size="13" font-weight="bold" class="tt" fill="#000" textLength="206.37" lengthAdjust="spacingAndGlyphs">Visual Complexity Losses (TTST)</text>
<text class="yl" transform="translate(21.77,746.21) rotate(-90)" font-size="8.94" fill="#1a1a1a" textLength="110.68" lengthAdjust="spacingAndGlyphs">Proportion not re-treated</text>
<text transform="translate(35,788.62) rotate(-90)" font-size="8.8" fill="#1a1a1a" textLength="12.23" lengthAdjust="spacingAndGlyphs">0.0</text>
<text transform="translate(35,753.61) rotate(-90)" font-size="8.8" fill="#1a1a1a" textLength="12.23" lengthAdjust="spacingAndGlyphs">0.2</text>
<text transform="translate(35,718.74) rotate(-90)" font-size="8.8" fill="#1a1a1a" textLength="12.23" lengthAdjust="spacingAndGlyphs">0.4</text>
<text transform="translate(35,683.71) rotate(-90)" font-size="8.8" fill="#1a1a1a" textLength="12.23" lengthAdjust="spacingAndGlyphs">0.6</text>
<text transform="translate(35,648.78) rotate(-90)" font-size="8.8" fill="#1a1a1a" textLength="12.23" lengthAdjust="spacingAndGlyphs">0.8</text>
<text transform="translate(35,613.97) rotate(-90)" font-size="8.8" fill="#1a1a1a" textLength="12.23" lengthAdjust="spacingAndGlyphs">1.0</text>
<text x="43.8" y="806" font-size="9" fill="#1a1a1a" textLength="4.4" lengthAdjust="spacingAndGlyphs">0</text>
<text x="77.48" y="806" font-size="9" fill="#1a1a1a" textLength="8.81" lengthAdjust="spacingAndGlyphs">20</text>
<text x="113.5" y="806" font-size="9" fill="#1a1a1a" textLength="8.81" lengthAdjust="spacingAndGlyphs">40</text>
<text x="149.32" y="806" font-size="9" fill="#1a1a1a" textLength="8.81" lengthAdjust="spacingAndGlyphs">60</text>
<text x="185.26" y="806" font-size="9" fill="#1a1a1a" textLength="8.81" lengthAdjust="spacingAndGlyphs">80</text>
<text x="218.87" y="806" font-size="9" fill="#1a1a1a" textLength="13.21" lengthAdjust="spacingAndGlyphs">100</text>
<text x="122.55" y="822.8" font-size="10.1" fill="#1a1a1a" textLength="64.79" lengthAdjust="spacingAndGlyphs" class="xl">Time (months)</text>
<text x="229.51" y="612.6" font-size="9.9" fill="#000" textLength="22.21" lengthAdjust="spacingAndGlyphs" class="lg">&lt; 3.0</text>
<text x="230.01" y="623.4" font-size="9.9" fill="#000" textLength="21.7" lengthAdjust="spacingAndGlyphs" class="lg">&#8805; 3.0</text>
<text x="202.37" y="781.6" font-size="14" fill="#000" class="pt" font-style="italic" textLength="9.61" lengthAdjust="spacingAndGlyphs">P</text>
<text class="pt" x="211.98" y="781.6" font-size="14" fill="#000" textLength="36.44" lengthAdjust="spacingAndGlyphs"> &lt; .01</text>
<text class="lt" x="275.74" y="571.3" font-size="17" fill="#000" textLength="10.38" lengthAdjust="spacingAndGlyphs">F</text>
<text x="310.67" y="585.7" font-size="13" font-weight="bold" class="tt" fill="#000" textLength="206.47" lengthAdjust="spacingAndGlyphs">Visual Complexity Losses (TTST)</text>
<text class="yl" transform="translate(284.81,742.32) rotate(-90)" font-size="9" fill="#1a1a1a" textLength="111.49" lengthAdjust="spacingAndGlyphs">Proportion not re-treated</text>
<text transform="translate(298.5,788.22) rotate(-90)" font-size="8.8" fill="#1a1a1a" textLength="12.23" lengthAdjust="spacingAndGlyphs">0.0</text>
<text transform="translate(298.5,753.11) rotate(-90)" font-size="8.8" fill="#1a1a1a" textLength="12.23" lengthAdjust="spacingAndGlyphs">0.2</text>
<text transform="translate(298.5,718.14) rotate(-90)" font-size="8.8" fill="#1a1a1a" textLength="12.23" lengthAdjust="spacingAndGlyphs">0.4</text>
<text transform="translate(298.5,683.01) rotate(-90)" font-size="8.8" fill="#1a1a1a" textLength="12.23" lengthAdjust="spacingAndGlyphs">0.6</text>
<text transform="translate(298.5,647.98) rotate(-90)" font-size="8.8" fill="#1a1a1a" textLength="12.23" lengthAdjust="spacingAndGlyphs">0.8</text>
<text transform="translate(298.5,613.07) rotate(-90)" font-size="8.8" fill="#1a1a1a" textLength="12.23" lengthAdjust="spacingAndGlyphs">1.0</text>
<text x="307.6" y="805.6" font-size="9" fill="#1a1a1a" textLength="4.4" lengthAdjust="spacingAndGlyphs">0</text>
<text x="341.28" y="805.6" font-size="9" fill="#1a1a1a" textLength="8.81" lengthAdjust="spacingAndGlyphs">20</text>
<text x="377.3" y="805.6" font-size="9" fill="#1a1a1a" textLength="8.81" lengthAdjust="spacingAndGlyphs">40</text>
<text x="413.12" y="805.6" font-size="9" fill="#1a1a1a" textLength="8.81" lengthAdjust="spacingAndGlyphs">60</text>
<text x="449.06" y="805.6" font-size="9" fill="#1a1a1a" textLength="8.81" lengthAdjust="spacingAndGlyphs">80</text>
<text x="482.67" y="805.6" font-size="9" fill="#1a1a1a" textLength="13.21" lengthAdjust="spacingAndGlyphs">100</text>
<text x="374.95" y="824.6" font-size="10.1" fill="#1a1a1a" textLength="65" lengthAdjust="spacingAndGlyphs" class="xl">Time (months)</text>
<text x="493.48" y="612" font-size="9.9" fill="#000" textLength="23.25" lengthAdjust="spacingAndGlyphs" class="lg">&lt; 3.5</text>
<text x="493.99" y="621.6" font-size="9.9" fill="#000" textLength="22.74" lengthAdjust="spacingAndGlyphs" class="lg">&#8805; 3.5</text>
<text x="465.77" y="780.7" font-size="14" fill="#000" class="pt" font-style="italic" textLength="9.54" lengthAdjust="spacingAndGlyphs">P</text>
<text class="pt" x="475.31" y="780.7" font-size="14" fill="#000" textLength="36.2" lengthAdjust="spacingAndGlyphs"> &lt; .01</text>
</g>
</svg>
</body></html>
